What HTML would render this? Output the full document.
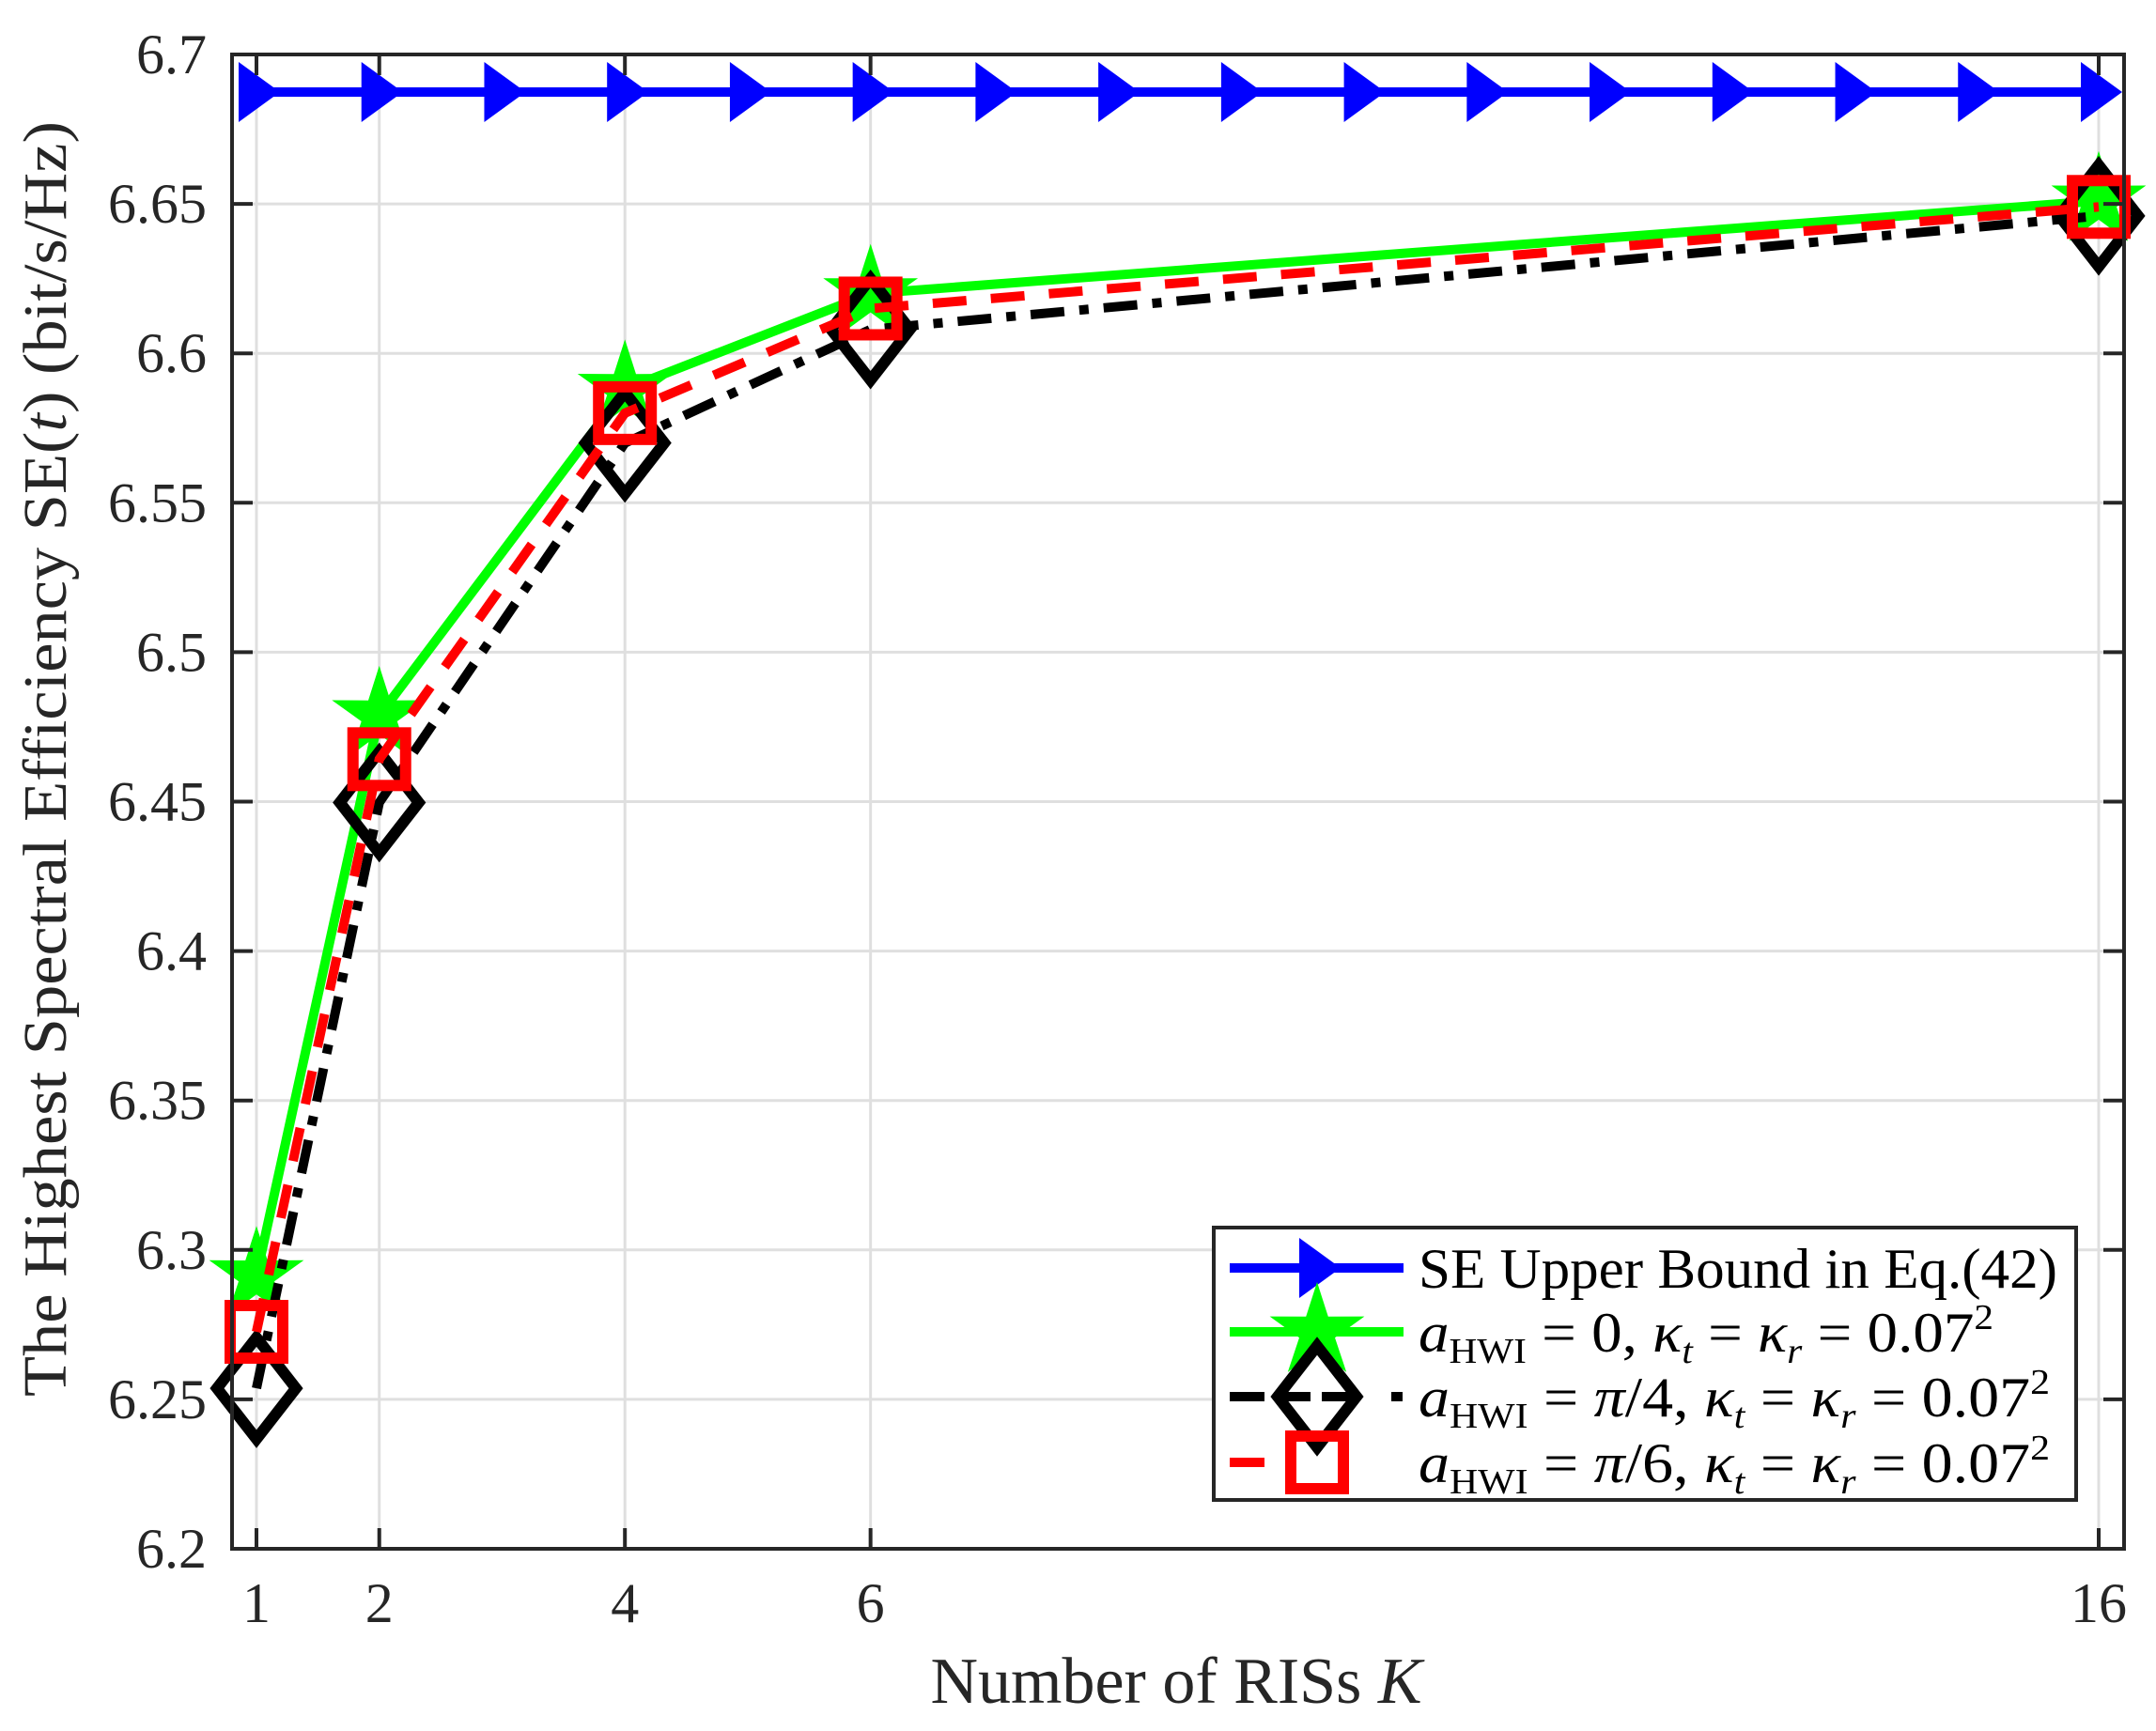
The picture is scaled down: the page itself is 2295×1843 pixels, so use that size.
<!DOCTYPE html>
<html><head><meta charset="utf-8"><style>
html,body{margin:0;padding:0;background:#fff;}
svg{display:block;font-family:"Liberation Serif",serif;}
</style></head><body>
<svg id="s" width="2295" height="1843" viewBox="0 0 2295 1843" xmlns="http://www.w3.org/2000/svg">
<rect width="2295" height="1843" fill="#fff"/>
<g id="grid" stroke="#dfdfdf" stroke-width="3"></g>
<g id="data"></g>
<g id="axes" stroke="#262626" stroke-width="4" fill="none"></g>
<g id="labels" fill="#262626" font-size="60"></g>
<text x="1252" y="1813" font-size="70" text-anchor="middle" fill="#262626">Number of RISs <tspan font-style="italic">K</tspan></text>
<text transform="translate(70,808) rotate(-90)" font-size="66" text-anchor="middle" fill="#262626" textLength="1358" lengthAdjust="spacingAndGlyphs">The Highest Spectral Efficiency SE(<tspan font-style="italic">t</tspan>) (bit/s/Hz)</text>
<g id="legend">
<rect x="1292" y="1307" width="918" height="290" fill="#fff" stroke="#262626" stroke-width="4"/>
</g>
</svg>
<script>
const NS="http://www.w3.org/2000/svg";
function el(p,t,a){const e=document.createElementNS(NS,t);for(const k in a)e.setAttribute(k,a[k]);p.appendChild(e);return e;}
const X=k=>273+(k-1)*130.733, Y=v=>58+(6.7-v)*3182;
const L=247,R=2261,T=58,B=1649;
const grid=document.getElementById('grid'),axes=document.getElementById('axes'),lab=document.getElementById('labels'),data=document.getElementById('data');
const xt=[1,2,4,6,16];
xt.forEach(k=>{el(grid,'line',{x1:X(k),x2:X(k),y1:T,y2:B});});
const yt=[6.2,6.25,6.3,6.35,6.4,6.45,6.5,6.55,6.6,6.65,6.7];
yt.forEach(v=>{el(grid,'line',{x1:L,x2:R,y1:Y(v),y2:Y(v)});});
el(axes,'rect',{x:L,y:T,width:R-L,height:B-T});
xt.forEach(k=>{el(axes,'line',{x1:X(k),x2:X(k),y1:B,y2:B-22});el(axes,'line',{x1:X(k),x2:X(k),y1:T,y2:T+22});
 const t=el(lab,'text',{x:X(k),y:1727,'text-anchor':'middle'});t.textContent=k;});
yt.forEach(v=>{el(axes,'line',{x1:L,x2:L+22,y1:Y(v),y2:Y(v)});el(axes,'line',{x1:R,x2:R-22,y1:Y(v),y2:Y(v)});
 const t=el(lab,'text',{x:220,y:Y(v)+20,'text-anchor':'end'});t.textContent=String(v);});
function star(g,x,y,c){let p=[];for(let i=0;i<10;i++){const r=i%2?20:53,a=(-90+36*i)*Math.PI/180;p.push((x+r*Math.cos(a)).toFixed(1)+','+(y+r*Math.sin(a)).toFixed(1));}el(g,'polygon',{points:p.join(' '),fill:c});}
function tri(g,x,y){el(g,'polygon',{points:`${x-19},${y-32} ${x+25},${y} ${x-19},${y+32}`,fill:'#0000ff'});}
function dia(g,x,y){el(g,'polygon',{points:`${x},${y-54} ${x+42},${y} ${x},${y+54} ${x-42},${y}`,fill:'none',stroke:'#000','stroke-width':12});}
function sq(g,x,y){el(g,'rect',{x:x-28,y:y-28,width:56,height:56,fill:'none',stroke:'#ff0000','stroke-width':12});}
const K=[1,2,4,6,16];
const series=[
 {c:'#0000ff',d:'',v:null,m:tri},
 {c:'#00ff00',d:'',v:[6.2914,6.4788,6.588,6.620,6.651],m:(g,x,y)=>star(g,x,y,'#00ff00')},
 {c:'#000000',d:'36 16 10 16',v:[6.2537,6.4497,6.570,6.608,6.646],m:dia},
 {c:'#ff0000',d:'36 26',v:[6.2726,6.4642,6.580,6.615,6.649],m:sq}];
series.forEach((s,i)=>{
 let pts;
 if(i==0){pts=[];for(let k=1;k<=16;k++)pts.push([X(k),98]);}
 else pts=K.map((k,j)=>[X(k),Y(s.v[j])]);
 const a={points:pts.map(p=>p.join(',')).join(' '),fill:'none',stroke:s.c,'stroke-width':10,'stroke-linejoin':'miter'};
 if(s.d)a['stroke-dasharray']=s.d;
 el(data,'polyline',a);
 pts.forEach(p=>s.m(data,p[0],p[1]));
});
const lg=document.getElementById('legend');
const ry=[1350,1418,1487,1557];
series.forEach((s,i)=>{
 const a={x1:1309,x2:1494,y1:ry[i],y2:ry[i],stroke:s.c,'stroke-width':10};
 if(i==2)a['stroke-dasharray']='37 12 37 12 37';
 if(i==3)a['stroke-dasharray']='37 148 37';
 el(lg,'line',a);
 s.m(lg,1402,ry[i]);
});
const txt=[
 'SE Upper Bound in Eq.(42)',
 '<tspan font-style="italic">a</tspan><tspan font-size="38" dy="12">HWI</tspan><tspan dy="-12"> = 0, </tspan><tspan font-style="italic">κ</tspan><tspan font-style="italic" font-size="38" dy="12">t</tspan><tspan dy="-12"> = </tspan><tspan font-style="italic">κ</tspan><tspan font-style="italic" font-size="38" dy="12">r</tspan><tspan dy="-12"> = 0.07</tspan><tspan font-size="38" dy="-24">2</tspan>',
 '<tspan font-style="italic">a</tspan><tspan font-size="38" dy="12">HWI</tspan><tspan dy="-12"> = </tspan><tspan font-style="italic">π</tspan><tspan>/4, </tspan><tspan font-style="italic">κ</tspan><tspan font-style="italic" font-size="38" dy="12">t</tspan><tspan dy="-12"> = </tspan><tspan font-style="italic">κ</tspan><tspan font-style="italic" font-size="38" dy="12">r</tspan><tspan dy="-12"> = 0.07</tspan><tspan font-size="38" dy="-24">2</tspan>',
 '<tspan font-style="italic">a</tspan><tspan font-size="38" dy="12">HWI</tspan><tspan dy="-12"> = </tspan><tspan font-style="italic">π</tspan><tspan>/6, </tspan><tspan font-style="italic">κ</tspan><tspan font-style="italic" font-size="38" dy="12">t</tspan><tspan dy="-12"> = </tspan><tspan font-style="italic">κ</tspan><tspan font-style="italic" font-size="38" dy="12">r</tspan><tspan dy="-12"> = 0.07</tspan><tspan font-size="38" dy="-24">2</tspan>'];
const tl=[680,612,672,672];
txt.forEach((t,i)=>{const e=el(lg,'text',{x:1510,y:ry[i]+21,'font-size':60,fill:'#000',textLength:tl[i],lengthAdjust:'spacingAndGlyphs'});e.innerHTML=t;});
</script>
</body></html>
